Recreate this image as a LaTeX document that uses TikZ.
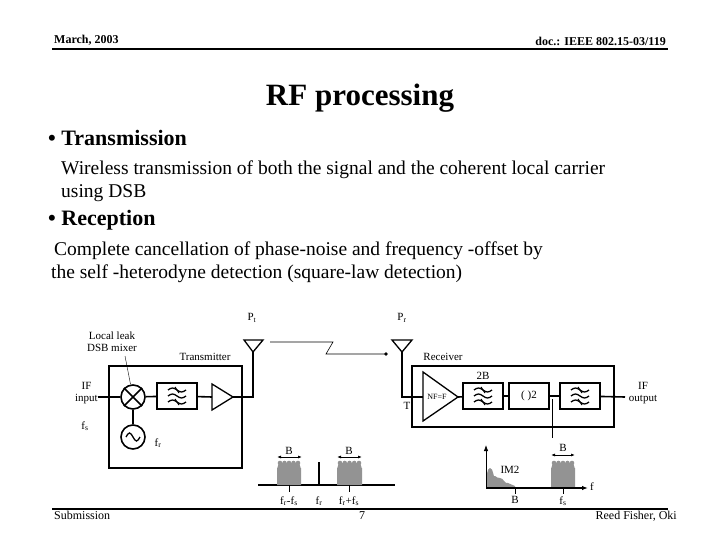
\documentclass[tikz,border=0pt]{standalone}
\usepackage{fontspec}
\setmainfont{Liberation Serif}
\usetikzlibrary{positioning, calc, arrows.meta}
\tikzset{
    blk/.style = {draw, line width=1.6pt, minimum width=40pt, minimum height=26pt, inner sep=0pt},
    lbl/.style = {font=\fontsize{11}{12}\selectfont, inner sep=1pt},
    wire/.style = {line width=1.6pt},
    Arrow/.style = {thick, -{Latex[length=5pt]}}
}
% filter glyph at a given point
\newcommand{\filtglyph}[1]{
    \foreach \dy in {-6,0,6} {
        \draw[line width=1.3pt] ($(#1)+(-9,\dy)$) sin ($(#1)+(-4.5,\dy-2)$) cos ($(#1)+(0,\dy)$) sin ($(#1)+(4.5,\dy+2)$) cos ($(#1)+(9,\dy)$);
    }
    \draw[line width=1.1pt] ($(#1)+(-2,-9)$) -- ($(#1)+(2,-3)$);
    \draw[line width=1.1pt] ($(#1)+(-2,3)$) -- ($(#1)+(2,9)$);
}
% shaded band with ragged top
\newcommand{\band}[3]{
    \fill[gray!85] (#1,#3) -- (#1,468) to[out=-80,in=180] (#1+3,463) -- (#2-3,463) to[out=0,in=-100] (#2,468) -- (#2,#3) -- cycle;
    \foreach \k in {0,...,4} {
        \pgfmathsetmacro{\bx}{#1+3+\k*(#2-#1-6)/4}
        \fill[gray!85] (\bx,463) circle (2.3pt);
    }
}
\begin{document}
\begin{tikzpicture}[x=1pt, y=-1pt]
\useasboundingbox (0,0) rectangle (720,540);

% header and footer
\node[anchor=south west, font=\bfseries\fontsize{12}{13}\selectfont, inner sep=1pt] (date) at (53,47) {March, 2003};
\node[anchor=south east, font=\bfseries\fontsize{12}{13}\selectfont, inner sep=1pt] (doc) at (667,47) {doc.: IEEE 802.15-03/119};
\draw[line width=1.5pt] (52,49) -- (668,49);
\draw[line width=1.5pt] (52,509) -- (668,509);
\node[anchor=north west, font=\fontsize{12}{13}\selectfont, inner sep=1pt] (sub) at (53,510) {Submission};
\node[anchor=north, font=\fontsize{12}{13}\selectfont, inner sep=1pt] (page) at (362,510) {7};
\node[anchor=north east, font=\fontsize{12}{13}\selectfont, inner sep=1pt] (auth) at (678,510) {Reed Fisher, Oki};

% text
\node[font=\bfseries\fontsize{31}{33}\selectfont] (title) at (360,98) {RF processing};
\node[anchor=west, font=\bfseries\fontsize{22}{24}\selectfont, inner sep=0pt] (b1) at (48,138) {\textbullet\ Transmission};
\node[anchor=west, font=\fontsize{19.5}{21}\selectfont, inner sep=0pt] (t1) at (61,170) {Wireless transmission of both the signal and the coherent local carrier};
\node[anchor=west, font=\fontsize{19.5}{21}\selectfont, inner sep=0pt] (t2) at (61,193) {using DSB};
\node[anchor=west, font=\bfseries\fontsize{22}{24}\selectfont, inner sep=0pt] (b2) at (48,220) {\textbullet\ Reception};
\node[anchor=west, font=\fontsize{19.5}{21}\selectfont, inner sep=0pt] (t3) at (54,251) {Complete cancellation of phase-noise and frequency -offset by};
\node[anchor=west, font=\fontsize{19.5}{21}\selectfont, inner sep=0pt] (t4) at (51,274) {the self -heterodyne detection (square-law detection)};

% transmitter
\draw[wire] (109,366) rectangle (242,468);
\node[lbl] (txl) at (205,357) {Transmitter};
\node[draw, circle, line width=1.6pt, minimum size=24pt, inner sep=0pt] (mix) at (133,397) {};
\draw[line width=1.6pt] (mix.north west) -- (mix.south east) (mix.north east) -- (mix.south west);
\node[draw, circle, line width=1.6pt, minimum size=24pt, inner sep=0pt] (osc) at (133,437) {};
\draw[line width=1.3pt] ($(osc)+(-7,0)$) sin ($(osc)+(-3.5,-4)$) cos ($(osc)+(0,0)$) sin ($(osc)+(3.5,4)$) cos ($(osc)+(7,0)$);
\node[blk] (tf) at (177,396) {};
\filtglyph{tf}
\coordinate (pa1) at (212,384);
\coordinate (pa2) at (212,410);
\coordinate (pa) at (233,397);
\draw[line width=1.3pt] (pa1) -- (pa) -- (pa2) -- cycle;
\coordinate (ifin) at (98,397);
\coordinate (tant) at (253,352);
\draw[wire] (ifin) -- (mix) (mix) -- (tf) (tf) -- (212,397);
\draw[wire] (mix) -- (osc);
\draw[wire] (pa) -| (tant);
\draw[line width=1.3pt] (244,340) -- (263,340) -- (tant) -- cycle;
\node[lbl, align=center] (mixl) at (112,342) {Local leak\\DSB mixer};
\draw (125,356) -- (mix);
\node[lbl, align=center, anchor=east] (ifil) at (99,393) {IF\\input};
\node[lbl] (fsl) at (85,426) {f$_\mathrm{s}$};
\node[lbl] (frl) at (158,443) {f$_\mathrm{r}$};
\node[lbl] (ptl) at (252,318) {P$_\mathrm{t}$};

% radio link
\coordinate (l1) at (270,342);
\coordinate (l2) at (333,342);
\coordinate (l3) at (326,354);
\coordinate (l4) at (386,354);
\draw[semithick] (l1) -- (l2) -- (l3) -- (l4);
\fill (l4) circle (1.8pt);

% receiver
\draw[wire] (412,366) rectangle (614,427);
\node[lbl] (rxl) at (443,357) {Receiver};
\coordinate (rant) at (402,352);
\draw[line width=1.3pt] (392,340) -- (412,340) -- (rant) -- cycle;
\node[lbl] (prl) at (402,318) {P$_\mathrm{r}$};
\node[lbl] (tl) at (407,406) {T};
\coordinate (la1) at (423,372);
\coordinate (la2) at (423,421);
\coordinate (la) at (458,397);
\draw[line width=1.3pt] (la1) -- (la) -- (la2) -- cycle;
\node[font=\fontsize{8}{9}\selectfont, inner sep=0pt] (nfl) at (437,397) {NF=F};
\draw[wire] (rant) |- (423,397);
\node[blk] (rf1) at (483,396) {};
\filtglyph{rf1}
\node[lbl] (bwl) at (483,376) {2B};
\node[blk] (sq) at (529,396) {\fontsize{11}{12}\selectfont ( )2};
\node[blk] (rf2) at (580,396) {};
\filtglyph{rf2}
\coordinate (ifout) at (625,397);
\coordinate (tap) at (552,438);
\draw[wire] (la) -- (rf1) (rf1) -- (sq) (sq) -- (rf2) (rf2) -- (ifout);
\draw[thick] (552,399) -- (tap);
\node[lbl, align=center] (ifol) at (643,393) {IF\\output};

% transmitted spectrum
\draw[line width=1.2pt] (258,485) -- (395,485);
\band{277}{301}{485}
\band{337}{362}{485}
\draw[line width=2pt] (319,462) -- (319,485);
\draw[thick, {Latex[length=4pt]}-{Latex[length=4pt]}] (277,457) -- (302,457);
\draw[thick, {Latex[length=4pt]}-{Latex[length=4pt]}] (337,457) -- (362,457);
\node[lbl] (bl1) at (289,451) {B};
\node[lbl] (bl2) at (349,451) {B};
\draw (289,485) -- (289,492) (349,485) -- (349,492);
\node[lbl] (f1) at (289,501) {f$_\mathrm{r}$-f$_\mathrm{s}$};
\node[lbl] (f2) at (319,501) {f$_\mathrm{r}$};
\node[lbl] (f3) at (349,501) {f$_\mathrm{r}$+f$_\mathrm{s}$};

% detected spectrum
\coordinate (org) at (486,488);
\coordinate (yax) at (486,445);
\coordinate (xax) at (588,488);
\fill[gray!85] (486,488) -- (486,475) to[out=-70,in=180] (490,468) to[out=0,in=-120] (495,476) to[out=-40,in=180] (500,478) to[out=0,in=-160] (508,483) -- (515,486) -- (515,488) -- cycle;
\band{551}{575}{488}
\draw[line width=1.2pt, -{Latex[length=6pt]}] (org) -- (xax);
\draw[thick, -{Latex[length=6pt]}] (org) -- (yax);
\draw[thick, {Latex[length=4pt]}-{Latex[length=4pt]}] (551,455) -- (575,455);
\node[lbl] (bl3) at (563,448) {B};
\node[lbl] (im2) at (510,470) {IM2};
\node[lbl] (fax) at (592,487) {f};
\draw (515,488) -- (515,494) (563,488) -- (563,494);
\node[lbl] (bl4) at (515,500) {B};
\node[lbl] (f4) at (563,501) {f$_\mathrm{s}$};
\end{tikzpicture}
\end{document}
